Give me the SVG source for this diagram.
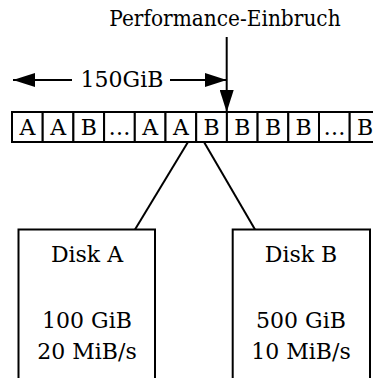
<svg xmlns="http://www.w3.org/2000/svg" width="373" height="378" viewBox="0 0 373 378">
<style>
text{font-family:'DejaVu Serif',serif;font-size:22px;fill:#000;text-anchor:middle}
.cond{font-family:'DejaVu Serif Condensed','DejaVu Serif',serif;font-size:22.4px}
.c{fill:#fff;stroke:#000;stroke-width:2}
.l{stroke:#000;stroke-width:2;fill:none}
</style>
<defs>
<marker id="ah" viewBox="0 0 22 14" refX="22" refY="7" markerWidth="22" markerHeight="14" markerUnits="userSpaceOnUse" orient="auto">
<path d="M0,0 L22,7 L0,14 Z" fill="#000"/>
</marker>
</defs>
<g id="labels">
<text class="cond" x="225" y="26">Performance-Einbruch</text>
<text x="122" y="87">150GiB</text>
</g>
<g id="strip">
<rect class="c" x="12" y="112" width="30.7" height="30"/>
<rect class="c" x="42.7" y="112" width="30.7" height="30"/>
<rect class="c" x="73.4" y="112" width="30.7" height="30"/>
<rect class="c" x="104.1" y="112" width="30.7" height="30"/>
<rect class="c" x="134.8" y="112" width="30.7" height="30"/>
<rect class="c" x="165.5" y="112" width="30.7" height="30"/>
<rect class="c" x="196.2" y="112" width="30.7" height="30"/>
<rect class="c" x="226.9" y="112" width="30.7" height="30"/>
<rect class="c" x="257.6" y="112" width="30.7" height="30"/>
<rect class="c" x="288.3" y="112" width="30.7" height="30"/>
<rect class="c" x="319" y="112" width="30.7" height="30"/>
<rect class="c" x="349.7" y="112" width="30.7" height="30"/>
<text x="27.4" y="135">A</text>
<text x="58.1" y="135">A</text>
<text x="88.8" y="135">B</text>
<text x="119.5" y="135">…</text>
<text x="150.2" y="135">A</text>
<text x="180.9" y="135">A</text>
<text x="211.6" y="135">B</text>
<text x="242.3" y="135">B</text>
<text x="273" y="135">B</text>
<text x="303.7" y="135">B</text>
<text x="334.4" y="135">…</text>
<text x="365.1" y="135">B</text>
</g>
<g id="diskA">
<rect class="c" x="18.5" y="229.5" width="136.5" height="160"/>
<text x="87" y="262">Disk A</text>
<text x="87" y="328">100 GiB</text>
<text x="87" y="359">20 MiB/s</text>
</g>
<g id="diskB">
<rect class="c" x="232.7" y="229.5" width="137.3" height="160"/>
<text x="301" y="262">Disk B</text>
<text x="301" y="328">500 GiB</text>
<text x="301" y="359">10 MiB/s</text>
</g>
<g id="connectors">
<line class="l" x1="188" y1="142" x2="135" y2="229.5"/>
<line class="l" x1="204" y1="142" x2="255" y2="229.5"/>
<line class="l" x1="226.7" y1="37" x2="226.7" y2="112" marker-end="url(#ah)"/>
<line class="l" x1="72" y1="80" x2="13" y2="80" marker-end="url(#ah)"/>
<line class="l" x1="170" y1="80" x2="226.7" y2="80" marker-end="url(#ah)"/>
</g>
</svg>
